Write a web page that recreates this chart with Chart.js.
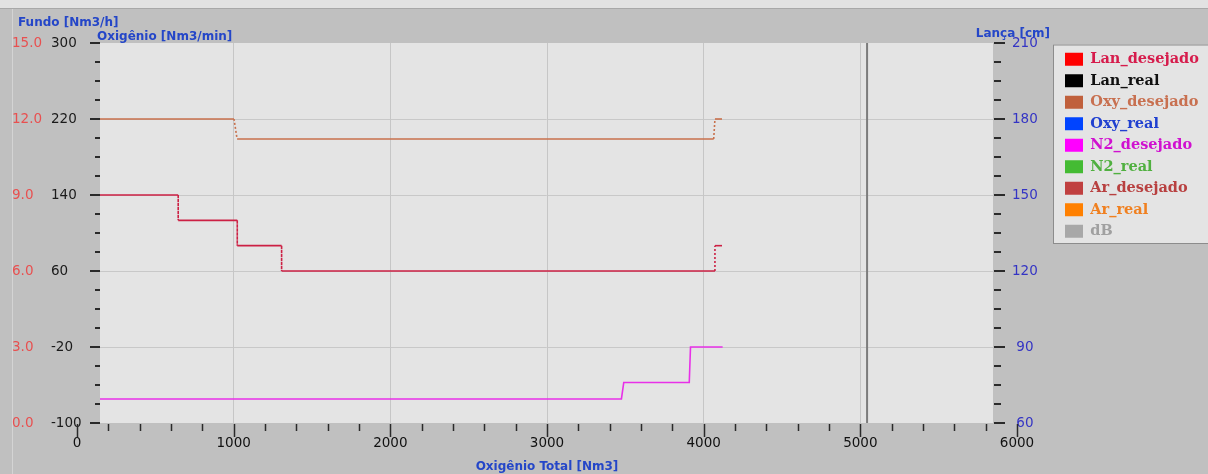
<!DOCTYPE html>
<html>
<head>
<meta charset="utf-8">
<script src="https://cdn.jsdelivr.net/npm/chart.js@4/dist/chart.umd.min.js"></script>
<style>
  html, body { margin: 0; padding: 0; background: #c0c0c0; }
  #wrap { width: 1208px; height: 474px; }
</style>
</head>
<body>
<div id="wrap"><canvas id="myChart" width="1208" height="474"></canvas></div>
<script>
// Tick labels of the four axes
const totalTicks = [0, 1000, 2000, 3000, 4000, 5000, 6000];   // Oxigênio Total [Nm3]
const fundoTicks = [0, 3, 6, 9, 12, 15];                       // Fundo [Nm3/h]
const oxiTicks = [-100, -20, 60, 140, 220, 300];               // Oxigênio [Nm3/min]
const lancaTicks = [60, 90, 120, 150, 180, 210];               // Lança [cm]

// Series (x = Oxigênio Total)
const lanX = [0, 646, 646, 1023, 1023, 1306, 1306, 4072, 4072, 4117];
const lanDesejado = [150, 150, 140, 140, 130, 130, 120, 120, 130, 130];
const oxyX = [0, 1002, 1022, 4064, 4072, 4117];
const oxyDesejado = [220, 220, 199, 199, 220, 220];
const n2X = [0, 3475, 3490, 3908, 3916, 4121];
const n2Desejado = [0.95, 0.95, 1.6, 1.6, 3.0, 3.0];
const cursorX = [5043];

const seriesNames = ['Lan_desejado', 'Lan_real', 'Oxy_desejado', 'Oxy_real', 'N2_desejado',
                     'N2_real', 'Ar_desejado', 'Ar_real', 'dB'];
const boxColors  = ['#ff0000', '#000000', '#c0603c', '#0044ff', '#ff00ff', '#44bb33', '#c04040', '#ff8000', '#a8a8a8'];
const textColors = ['#d61c4c', '#101010', '#c87050', '#2040d0', '#d010d0', '#50b040', '#b84040', '#f08020', '#a0a0a0'];

// looks
const plotInsetLeft = 23, plotInsetRight = 24;
const titleBlue = '#2446c8';
const dotted = c => (c.p0.parsed.y !== c.p1.parsed.y ? [2, 2] : undefined);
const insideClip = { left: -plotInsetLeft, top: 0, right: -plotInsetRight, bottom: 0 };
const noLabelClip = s => { s._computeLabelArea = () => null; };

function pts(xs, ys) { return xs.map((x, i) => ({ x: x, y: ys[i] })); }

const lineData = {
  Lan_desejado: { data: pts(lanX, lanDesejado), yAxisID: 'yLanca', borderColor: '#cc2044', segment: { borderDash: dotted } },
  Oxy_desejado: { data: pts(oxyX, oxyDesejado), yAxisID: 'yOxi', borderColor: '#c8704c', segment: { borderDash: dotted } },
  N2_desejado:  { data: pts(n2X, n2Desejado), yAxisID: 'yFundo', borderColor: '#e830e8' }
};

const datasets = seriesNames.map((name, i) => Object.assign({
  label: name,
  data: [],
  yAxisID: 'yOxi',
  borderColor: boxColors[i],
  backgroundColor: boxColors[i],
  borderWidth: 1.6,
  pointRadius: 0,
  tension: 0,
  clip: insideClip,
  legendBox: boxColors[i],
  legendText: textColors[i]
}, lineData[name] || {}));

// cursor line
datasets.push({
  label: 'cursor',
  data: [{ x: cursorX[0], y: oxiTicks[0] }, { x: cursorX[0], y: oxiTicks[oxiTicks.length - 1] }],
  yAxisID: 'yOxi',
  borderColor: '#7c7c7c',
  borderWidth: 2,
  pointRadius: 0,
  clip: insideClip,
  inLegend: false
});

const framePlugin = {
  id: 'frame',
  beforeDraw(chart) {
    const { ctx, chartArea: a } = chart;
    const L = a.left + plotInsetLeft, R = a.right - plotInsetRight;
    ctx.save();
    ctx.fillStyle = '#c0c0c0';
    ctx.fillRect(0, 0, chart.width, chart.height);
    ctx.fillStyle = '#e2e2e2';
    ctx.fillRect(0, 0, chart.width, 8);
    ctx.strokeStyle = '#a8a8a8';
    ctx.lineWidth = 1;
    ctx.beginPath();
    ctx.moveTo(0, 8.5); ctx.lineTo(chart.width, 8.5);
    ctx.stroke();
    ctx.strokeStyle = '#d4d4d4';
    ctx.beginPath();
    ctx.moveTo(12.5, 9); ctx.lineTo(12.5, chart.height);
    ctx.stroke();

    // legend panel
    const lg = chart.legend, hb = lg.legendHitBoxes;
    if (hb && hb.length) {
      const last = hb[hb.length - 1];
      const top = hb[0].top - 7.5, bottom = last.top + last.height + 4.5;
      ctx.fillStyle = '#e4e4e4';
      ctx.fillRect(lg.left - 5, top, chart.width, bottom - top);
      ctx.strokeStyle = '#8c8c8c';
      ctx.strokeRect(lg.left - 4.5, top + 0.5, chart.width, bottom - top);
    }

    // plot background and horizontal grid
    ctx.fillStyle = '#e4e4e4';
    ctx.fillRect(L, a.top, R - L, a.bottom - a.top);
    const yo = chart.scales.yOxi;
    ctx.strokeStyle = '#c8c8c8';
    oxiTicks.slice(1, -1).forEach(v => {
      const y = Math.round(yo.getPixelForValue(v)) + 0.5;
      ctx.beginPath(); ctx.moveTo(L, y); ctx.lineTo(R, y); ctx.stroke();
    });
    ctx.restore();
  },
  afterDraw(chart) {
    const { ctx, chartArea: a } = chart;
    const L = a.left + plotInsetLeft, R = a.right - plotInsetRight;
    const yo = chart.scales.yOxi, xs = chart.scales.x;
    ctx.save();
    ctx.strokeStyle = '#2a2a2a';
    // y tick marks (4 subdivisions)
    ctx.lineWidth = 2;
    const sub = (oxiTicks[1] - oxiTicks[0]) / 4;
    for (let v = oxiTicks[0]; v <= oxiTicks[oxiTicks.length - 1]; v += sub) {
      const major = oxiTicks.includes(v);
      const y = Math.round(yo.getPixelForValue(v));
      ctx.beginPath(); ctx.moveTo(L - (major ? 10 : 5), y); ctx.lineTo(L, y); ctx.stroke();
      ctx.beginPath(); ctx.moveTo(R + 1, y); ctx.lineTo(R + (major ? 12 : 8), y); ctx.stroke();
    }
    // x tick marks
    ctx.lineWidth = 1.5;
    xs.ticks.forEach(t => {
      const major = totalTicks.includes(t.value);
      const x = Math.round(xs.getPixelForValue(t.value)) + 0.5;
      ctx.beginPath(); ctx.moveTo(x, a.bottom + 1); ctx.lineTo(x, a.bottom + (major ? 14 : 8)); ctx.stroke();
    });
    // axis titles at the top
    ctx.fillStyle = titleBlue;
    ctx.font = 'bold 12px "DejaVu Sans"';
    ctx.textBaseline = 'middle';
    ctx.textAlign = 'left';
    ctx.fillText('Fundo [Nm3/h]', 18, 23);
    ctx.fillText('Oxigênio [Nm3/min]', L - 3, 37);
    ctx.textAlign = 'right';
    ctx.fillText('Lança [cm]', 1050, 34);
    ctx.restore();
  }
};

Chart.defaults.font.family = "'DejaVu Sans', sans-serif";

const ctx = document.getElementById('myChart').getContext('2d');
const myChart = new Chart(ctx, {
  type: 'line',
  data: { datasets: datasets },
  plugins: [framePlugin],
  options: {
    responsive: false,
    animation: false,
    events: [],
    layout: { padding: { left: 12, top: 43, right: 0, bottom: 0 } },
    scales: {
      x: {
        type: 'linear',
        min: totalTicks[0],
        max: totalTicks[totalTicks.length - 1],
        afterFit: s => { s.height = 51; },
        ticks: {
          stepSize: 200,
          autoSkip: false,
          maxRotation: 0,
          padding: 12,
          color: '#111111',
          font: { size: 13.5 },
          callback: v => (totalTicks.includes(v) ? String(v) : '')
        },
        grid: {
          drawTicks: false,
          lineWidth: 1,
          color: c => (c.tick && totalTicks.slice(1, -1).includes(c.tick.value) ? '#c6c6c6' : 'rgba(0,0,0,0)')
        },
        border: { display: false },
        title: {
          display: true,
          text: 'Oxigênio Total [Nm3]',
          color: titleBlue,
          font: { size: 12, weight: 'bold' },
          padding: { top: 0, bottom: 0 }
        }
      },
      yFundo: {
        type: 'linear',
        position: 'left',
        weight: 2,
        min: fundoTicks[0],
        max: fundoTicks[fundoTicks.length - 1],
        afterFit: s => { s.width = 39; noLabelClip(s); },
        ticks: {
          stepSize: fundoTicks[1] - fundoTicks[0],
          crossAlign: 'far',
          padding: 0,
          color: '#e85050',
          font: { size: 13.5 },
          callback: v => v.toFixed(1)
        },
        grid: { display: false, drawTicks: false },
        border: { display: false }
      },
      yOxi: {
        type: 'linear',
        position: 'left',
        weight: 1,
        min: oxiTicks[0],
        max: oxiTicks[oxiTicks.length - 1],
        afterFit: s => { s.width = 26; noLabelClip(s); },
        ticks: {
          stepSize: oxiTicks[1] - oxiTicks[0],
          crossAlign: 'far',
          padding: 0,
          color: '#1a1a1a',
          font: { size: 13.5 }
        },
        grid: { display: false, drawTicks: false },
        border: { display: false }
      },
      yLanca: {
        type: 'linear',
        position: 'right',
        min: lancaTicks[0],
        max: lancaTicks[lancaTicks.length - 1],
        afterFit: s => { s.width = 41; noLabelClip(s); },
        ticks: {
          stepSize: lancaTicks[1] - lancaTicks[0],
          crossAlign: 'center',
          padding: -5,
          color: '#3434c4',
          font: { size: 13.5 }
        },
        grid: { display: false, drawTicks: false },
        border: { display: false }
      }
    },
    plugins: {
      tooltip: { enabled: false },
      legend: {
        position: 'right',
        align: 'start',
        maxWidth: 150,
        title: { display: true, text: '', padding: 0, font: { size: 2, lineHeight: 1 } },
        labels: {
          boxWidth: 18,
          boxHeight: 13,
          padding: 7,
          font: { family: "'DejaVu Serif', serif", size: 14.5, weight: 'bold' },
          filter: (item, data) => data.datasets[item.datasetIndex].inLegend !== false,
          generateLabels: chart => Chart.defaults.plugins.legend.labels.generateLabels(chart).map(item => {
            const ds = chart.data.datasets[item.datasetIndex];
            item.fillStyle = ds.legendBox;
            item.strokeStyle = 'rgba(0,0,0,0)';
            item.lineWidth = 0;
            item.lineDash = [];
            item.fontColor = ds.legendText;
            return item;
          })
        }
      }
    }
  }
});
</script>
</body>
</html>
